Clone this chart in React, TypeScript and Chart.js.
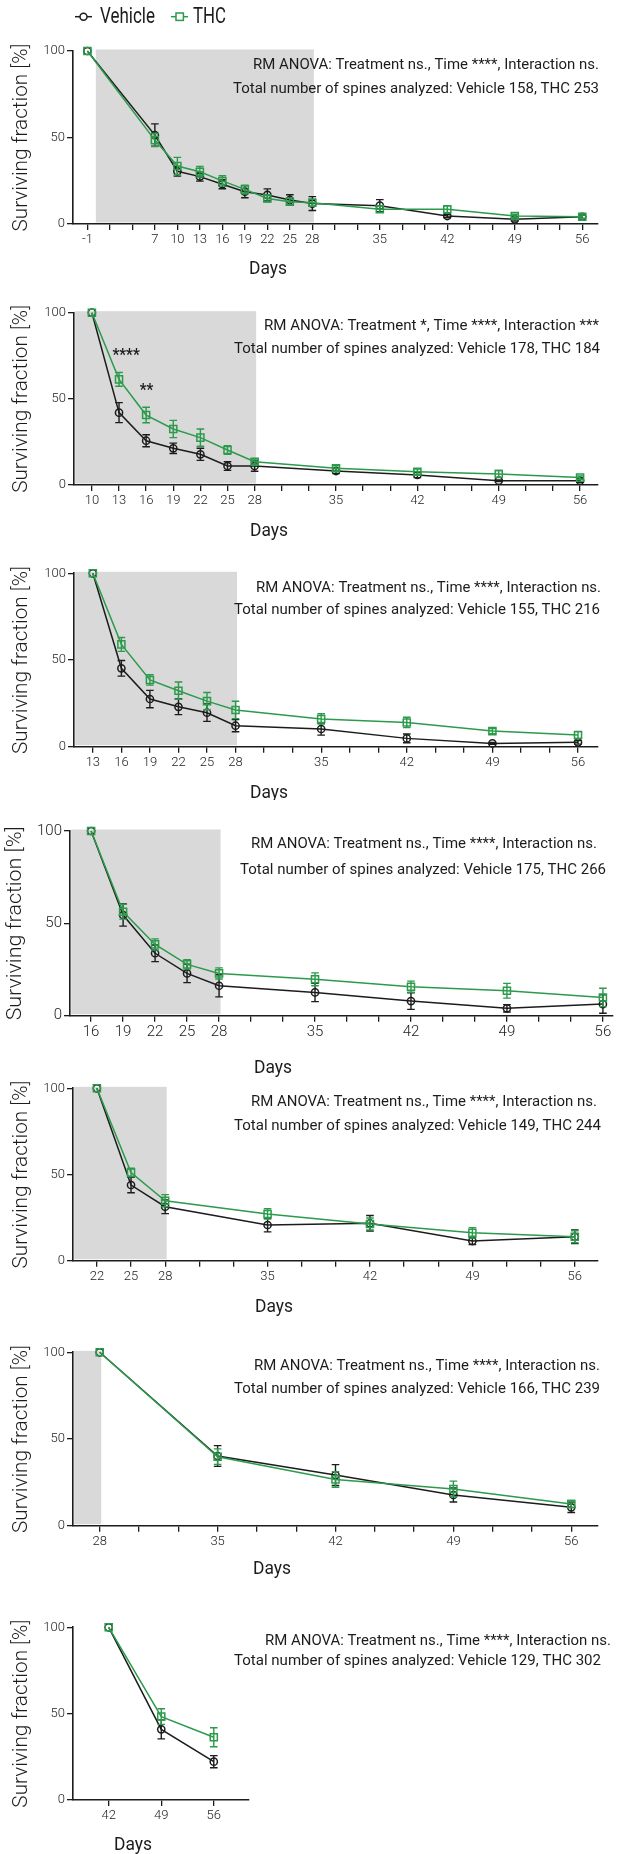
import React, { useEffect, useRef } from 'react';
import { Chart, registerables } from 'chart.js';

Chart.register(...registerables);

// ---------- shared text / styling ----------
const FONT = 'Roboto, "Liberation Sans", "DejaVu Sans", sans-serif';
const LIGHT = 300;
const REGULAR = 400;
const INK = '#1c1c1c';
const GREEN = '#2b9b4b';
const SHADE_COLOR = '#d9d9d9';
const SERIES_NAMES = ['Vehicle', 'THC'];
const X_TITLE = 'Days';
const Y_TITLE = 'Surviving fraction [%]';
const Y_TICKS = [0, 50, 100];
const TREATMENT_DAYS = [0, 28];
const ANOVA_NS = 'RM ANOVA: Treatment ns., Time ****, Interaction ns.';

// ---------- Panel 1 ----------
const P1_TICKS = ['-1', '', '', '7', '10', '13', '16', '19', '22', '25', '28', '', '', '35', '', '', '42', '', '', '49', '', '', '56'];
const P1_DAYS = [-1, 7, 10, 13, 16, 19, 22, 25, 28, 35, 42, 49, 56];
const P1_VEH = [100, 51.4, 30.5, 27.4, 23, 18.7, 16.8, 13.9, 11.8, 10.6, 4.6, 2.7, 4.2];
const P1_VEH_SEM = [0, 6.5, 2.8, 2.6, 2.6, 3.5, 3.5, 3, 4, 3.5, 1, 1, 1];
const P1_THC = [100, 48.5, 33.5, 30.2, 24.9, 20, 14.8, 12.9, 12.3, 8.5, 8.5, 4.6, 4.2];
const P1_THC_SEM = [0, 3.8, 5, 3, 3, 2.5, 2, 2, 2, 1.8, 2, 1, 1];
const P1_ANOVA = ANOVA_NS;
const P1_TOTAL = 'Total number of spines analyzed: Vehicle 158, THC 253';

// ---------- Panel 2 ----------
const P2_TICKS = ['10', '13', '16', '19', '22', '25', '28', '', '', '35', '', '', '42', '', '', '49', '', '', '56'];
const P2_DAYS = [10, 13, 16, 19, 22, 25, 28, 35, 42, 49, 56];
const P2_VEH = [100, 42, 25.7, 21.3, 17.8, 11, 11, 8.1, 5.8, 2.5, 2.5];
const P2_VEH_SEM = [0, 5.8, 3.5, 3, 3.5, 2.5, 3, 1.5, 1.5, 0.5, 1];
const P2_THC = [100, 61.3, 40.6, 32.5, 27.5, 20.3, 13.5, 9.7, 7.7, 6.4, 4.3];
const P2_THC_SEM = [0, 4, 4.5, 5, 5, 2.5, 1.5, 1.5, 1.5, 2, 1];
const P2_ANOVA = 'RM ANOVA: Treatment *, Time ****, Interaction ***';
const P2_TOTAL = 'Total number of spines analyzed: Vehicle 178, THC 184';
const P2_SIG_DAYS = [13, 16];
const P2_SIG_LABELS = ['****', '**'];

// ---------- Panel 3 ----------
const P3_TICKS = ['13', '16', '19', '22', '25', '28', '', '', '35', '', '', '42', '', '', '49', '', '', '56'];
const P3_DAYS = [13, 16, 19, 22, 25, 28, 35, 42, 49, 56];
const P3_VEH = [100, 45.2, 27.5, 23, 19.6, 12.1, 10.2, 4.8, 1.9, 2.5];
const P3_VEH_SEM = [0, 4.5, 5, 4.5, 5, 3.5, 3.5, 2.5, 0.5, 1];
const P3_THC = [100, 59, 38.5, 32.3, 26.3, 21.2, 16, 14, 9, 6.7];
const P3_THC_SEM = [0, 4, 3, 5, 5, 5, 3, 3, 1.5, 2];
const P3_ANOVA = ANOVA_NS;
const P3_TOTAL = 'Total number of spines analyzed: Vehicle 155, THC 216';

// ---------- Panel 4 ----------
const P4_TICKS = ['16', '19', '22', '25', '28', '', '', '35', '', '', '42', '', '', '49', '', '', '56'];
const P4_DAYS = [16, 19, 22, 25, 28, 35, 42, 49, 56];
const P4_VEH = [100, 54.5, 33.8, 22.9, 16.2, 12.6, 7.9, 4, 6.3];
const P4_VEH_SEM = [0, 6, 4.5, 5, 6, 5, 4.5, 2, 5];
const P4_THC = [100, 56.3, 38.6, 27.8, 22.9, 19.7, 15.7, 13.5, 9.9];
const P4_THC_SEM = [0, 4, 3, 2.5, 3, 3.5, 3, 4, 5];
const P4_ANOVA = ANOVA_NS;
const P4_TOTAL = 'Total number of spines analyzed: Vehicle 175, THC 266';

// ---------- Panel 5 ----------
const P5_TICKS = ['22', '25', '28', '', '', '35', '', '', '42', '', '', '49', '', '', '56'];
const P5_DAYS = [22, 25, 28, 35, 42, 49, 56];
const P5_VEH = [100, 43.9, 31.3, 20.7, 21.7, 11.4, 13.9];
const P5_VEH_SEM = [0, 4.5, 4, 4, 4.5, 2, 4];
const P5_THC = [100, 51.1, 34.8, 27.1, 21.3, 16.2, 13.9];
const P5_THC_SEM = [0, 2.5, 3.5, 3, 3.5, 3, 3.5];
const P5_ANOVA = ANOVA_NS;
const P5_TOTAL = 'Total number of spines analyzed: Vehicle 149, THC 244';

// ---------- Panel 6 ----------
const P6_TICKS = ['28', '', '', '35', '', '', '42', '', '', '49', '', '', '56'];
const P6_DAYS = [28, 35, 42, 49, 56];
const P6_VEH = [100, 40.2, 29.2, 17.7, 10.6];
const P6_VEH_SEM = [0, 6, 6, 4, 3];
const P6_THC = [100, 39.8, 26.7, 21.2, 12.5];
const P6_THC_SEM = [0, 4.5, 4.5, 4.5, 2];
const P6_ANOVA = ANOVA_NS;
const P6_TOTAL = 'Total number of spines analyzed: Vehicle 166, THC 239';

// ---------- Panel 7 ----------
const P7_TICKS = ['42', '49', '56'];
const P7_DAYS = [42, 49, 56];
const P7_VEH = [100, 40.9, 22.2];
const P7_VEH_SEM = [0, 5.5, 3.5];
const P7_THC = [100, 48.3, 36.3];
const P7_THC_SEM = [0, 4.5, 5.5];
const P7_ANOVA = ANOVA_NS;
const P7_TOTAL = 'Total number of spines analyzed: Vehicle 129, THC 302';

type PanelData = {
  ticks: string[]; days: number[];
  veh: number[]; vehSem: number[]; thc: number[]; thcSem: number[];
  anova: string; total: string; sigDays: number[]; sigLabels: string[];
};

const PANELS: PanelData[] = [
  { ticks: P1_TICKS, days: P1_DAYS, veh: P1_VEH, vehSem: P1_VEH_SEM, thc: P1_THC, thcSem: P1_THC_SEM, anova: P1_ANOVA, total: P1_TOTAL, sigDays: [], sigLabels: [] },
  { ticks: P2_TICKS, days: P2_DAYS, veh: P2_VEH, vehSem: P2_VEH_SEM, thc: P2_THC, thcSem: P2_THC_SEM, anova: P2_ANOVA, total: P2_TOTAL, sigDays: P2_SIG_DAYS, sigLabels: P2_SIG_LABELS },
  { ticks: P3_TICKS, days: P3_DAYS, veh: P3_VEH, vehSem: P3_VEH_SEM, thc: P3_THC, thcSem: P3_THC_SEM, anova: P3_ANOVA, total: P3_TOTAL, sigDays: [], sigLabels: [] },
  { ticks: P4_TICKS, days: P4_DAYS, veh: P4_VEH, vehSem: P4_VEH_SEM, thc: P4_THC, thcSem: P4_THC_SEM, anova: P4_ANOVA, total: P4_TOTAL, sigDays: [], sigLabels: [] },
  { ticks: P5_TICKS, days: P5_DAYS, veh: P5_VEH, vehSem: P5_VEH_SEM, thc: P5_THC, thcSem: P5_THC_SEM, anova: P5_ANOVA, total: P5_TOTAL, sigDays: [], sigLabels: [] },
  { ticks: P6_TICKS, days: P6_DAYS, veh: P6_VEH, vehSem: P6_VEH_SEM, thc: P6_THC, thcSem: P6_THC_SEM, anova: P6_ANOVA, total: P6_TOTAL, sigDays: [], sigLabels: [] },
  { ticks: P7_TICKS, days: P7_DAYS, veh: P7_VEH, vehSem: P7_VEH_SEM, thc: P7_THC, thcSem: P7_THC_SEM, anova: P7_ANOVA, total: P7_TOTAL, sigDays: [], sigLabels: [] },
];

// ---------- layout (absolute page pixels) ----------
type Box = { x0: number; x1: number; y: number };
type Layout = {
  top: number; bottom: number; plotTop: number; plotBottom: number;
  axisX: number; axisEnd: number; padL: number; padR: number; tickSize: number;
  anova: Box; total: Box; days: Box; yTitleX: number; yTitleLen: number; legend?: boolean;
};

const FIG_W = 619;
const FIG_H = 1854;

const daysBox = (cx: number, y: number): Box => ({ x0: cx - 19, x1: cx + 19, y });

const LAYOUTS: Layout[] = [
  { top: 0, bottom: 280, plotTop: 51, plotBottom: 224, axisX: 73, axisEnd: 598, padL: 0.64, padR: 0.7, tickSize: 13,
    anova: { x0: 253, x1: 599, y: 65 }, total: { x0: 233, x1: 599, y: 89 }, days: daysBox(268, 269), yTitleX: 22, yTitleLen: 188, legend: true },
  { top: 280, bottom: 540, plotTop: 312.7, plotBottom: 485, axisX: 74, axisEnd: 598, padL: 0.66, padR: 0.66, tickSize: 13,
    anova: { x0: 264, x1: 599, y: 326.7 }, total: { x0: 234, x1: 600, y: 349.3 }, days: daysBox(269, 531.7), yTitleX: 22, yTitleLen: 188 },
  { top: 540, bottom: 800, plotTop: 573.3, plotBottom: 746.7, axisX: 74, axisEnd: 598, padL: 0.66, padR: 0.7, tickSize: 13,
    anova: { x0: 256, x1: 601, y: 588.3 }, total: { x0: 234, x1: 600, y: 610.7 }, days: daysBox(269, 793.3), yTitleX: 22, yTitleLen: 188 },
  { top: 800, bottom: 1077, plotTop: 831, plotBottom: 1015.7, axisX: 70, axisEnd: 617, padL: 0.66, padR: 0.3, tickSize: 15,
    anova: { x0: 251, x1: 597, y: 844.3 }, total: { x0: 240, x1: 606, y: 870.7 }, days: daysBox(273, 1068.3), yTitleX: 16, yTitleLen: 194 },
  { top: 1077, bottom: 1318, plotTop: 1088.3, plotBottom: 1260.7, axisX: 73, axisEnd: 598, padL: 0.7, padR: 0.68, tickSize: 13,
    anova: { x0: 251, x1: 597, y: 1102.7 }, total: { x0: 234, x1: 601, y: 1126 }, days: daysBox(274, 1307.3), yTitleX: 22, yTitleLen: 188 },
  { top: 1318, bottom: 1580, plotTop: 1352.3, plotBottom: 1525.7, axisX: 73, axisEnd: 598, padL: 0.68, padR: 0.68, tickSize: 13,
    anova: { x0: 254, x1: 600, y: 1366.7 }, total: { x0: 234, x1: 600, y: 1389.3 }, days: daysBox(272, 1569.3), yTitleX: 22, yTitleLen: 188 },
  { top: 1580, bottom: 1854, plotTop: 1627.3, plotBottom: 1800, axisX: 73, axisEnd: 249, padL: 0.68, padR: 0.67, tickSize: 13,
    anova: { x0: 265, x1: 611, y: 1641 }, total: { x0: 234, x1: 601, y: 1661 }, days: daysBox(133, 1845), yTitleX: 22, yTitleLen: 188 },
];

const CAP = 3.8;

function fitText(ctx: CanvasRenderingContext2D, text: string, x0: number, x1: number, y: number, font: string, color: string) {
  ctx.save();
  ctx.font = font;
  ctx.fillStyle = color;
  ctx.textAlign = 'left';
  ctx.textBaseline = 'middle';
  const w = ctx.measureText(text).width || 1;
  ctx.translate(x0, y);
  ctx.scale((x1 - x0) / w, 1);
  ctx.fillText(text, 0, 0);
  ctx.restore();
}

function dayToSlot(ticks: string[], day: number): number {
  const pts: [number, number][] = [];
  ticks.forEach((t, i) => { if (t !== '') pts.push([i, Number(t)]); });
  if (day < pts[0][1]) return -Infinity;
  if (day > pts[pts.length - 1][1]) return Infinity;
  for (let k = 0; k < pts.length - 1; k++) {
    const [i0, d0] = pts[k];
    const [i1, d1] = pts[k + 1];
    if (day >= d0 && day <= d1) return i0 + ((day - d0) / (d1 - d0)) * (i1 - i0);
  }
  return pts[pts.length - 1][0];
}

function makeDecor(p: PanelData, L: Layout) {
  return {
    id: 'decor',
    beforeDraw(chart: any) {
      const { ctx, chartArea, scales } = chart;
      const xs = scales.x, ys = scales.y;
      const s0 = dayToSlot(p.ticks, TREATMENT_DAYS[0]);
      const s1 = dayToSlot(p.ticks, TREATMENT_DAYS[1]);
      let x0 = isFinite(s0) ? xs.getPixelForValue(s0) : (s0 < 0 ? chartArea.left + 1.2 : chartArea.right);
      const x1 = isFinite(s1) ? xs.getPixelForValue(s1) + 1.5 : (s1 < 0 ? chartArea.left : chartArea.right);
      x0 = Math.max(x0, chartArea.left + 1.2);
      if (x1 > x0) {
        const yt = ys.getPixelForValue(100) - 1.5;
        const yb = ys.getPixelForValue(0) - 1.5;
        ctx.save();
        ctx.fillStyle = SHADE_COLOR;
        ctx.fillRect(x0, yt, x1 - x0, yb - yt);
        ctx.restore();
      }
    },
    afterDatasetDraw(chart: any, args: any) {
      const ds: any = chart.data.datasets[args.index];
      const sem: number[] = ds.sem;
      if (!sem) return;
      const ys = chart.scales.y;
      const ctx: CanvasRenderingContext2D = chart.ctx;
      ctx.save();
      ctx.strokeStyle = ds.borderColor;
      ctx.lineWidth = 1.4;
      args.meta.data.forEach((el: any, i: number) => {
        const e = sem[i];
        if (!e) return;
        const v = ds.data[i].y;
        const yt = ys.getPixelForValue(v + e);
        const yb = ys.getPixelForValue(v - e);
        const x = el.x;
        ctx.beginPath();
        ctx.moveTo(x, yt); ctx.lineTo(x, yb);
        ctx.moveTo(x - CAP, yt); ctx.lineTo(x + CAP, yt);
        ctx.moveTo(x - CAP, yb); ctx.lineTo(x + CAP, yb);
        ctx.stroke();
      });
      ctx.restore();
    },
    afterDraw(chart: any) {
      const ctx: CanvasRenderingContext2D = chart.ctx;
      const dy = L.top;
      const xs = chart.scales.x, ys = chart.scales.y;
      fitText(ctx, p.anova, L.anova.x0, L.anova.x1, L.anova.y - dy, `${REGULAR} 14px ${FONT}`, INK);
      fitText(ctx, p.total, L.total.x0, L.total.x1, L.total.y - dy, `${REGULAR} 14px ${FONT}`, INK);
      fitText(ctx, X_TITLE, L.days.x0, L.days.x1, L.days.y - dy, `${REGULAR} 18px ${FONT}`, INK);
      // y title
      ctx.save();
      ctx.translate(L.yTitleX, (L.plotTop + L.plotBottom) / 2 - dy);
      ctx.rotate(-Math.PI / 2);
      fitText(ctx, Y_TITLE, -L.yTitleLen / 2, L.yTitleLen / 2, 0, `${LIGHT} 21px ${FONT}`, INK);
      ctx.restore();
      // significance stars
      p.sigDays.forEach((d, k) => {
        const idx = p.days.indexOf(d);
        const x = xs.getPixelForValue(p.ticks.indexOf(String(d)));
        const y = ys.getPixelForValue(p.thc[idx] + p.thcSem[idx]) - 17;
        const lab = p.sigLabels[k];
        const w = lab.length * 6.8;
        fitText(ctx, lab, x - 6.5, x - 6.5 + w, y, `bold 17px ${FONT}`, INK);
      });
      if (L.legend) {
        const ly = 16.7 - dy;
        ctx.save();
        ctx.lineWidth = 1.5;
        ctx.strokeStyle = INK;
        ctx.beginPath(); ctx.moveTo(75, ly); ctx.lineTo(92, ly); ctx.stroke();
        ctx.fillStyle = '#fff';
        ctx.beginPath(); ctx.arc(83.5, ly, 3.5, 0, Math.PI * 2); ctx.fill(); ctx.stroke();
        ctx.strokeStyle = GREEN;
        ctx.beginPath(); ctx.moveTo(171, ly); ctx.lineTo(188, ly); ctx.stroke();
        ctx.fillRect(176, ly - 3.7, 7.4, 7.4);
        ctx.strokeRect(176, ly - 3.7, 7.4, 7.4);
        ctx.restore();
        fitText(ctx, SERIES_NAMES[0], 100, 155, ly + 1, `${REGULAR} 22px ${FONT}`, INK);
        fitText(ctx, SERIES_NAMES[1], 193, 226, ly + 1, `${REGULAR} 22px ${FONT}`, INK);
      }
    },
  };
}

function buildChart(canvas: HTMLCanvasElement, p: PanelData, L: Layout) {
  const n = p.ticks.length;
  const slot = (d: number) => p.ticks.indexOf(String(d));
  const vehData = p.days.map((d, i) => ({ x: slot(d), y: p.veh[i] }));
  const thcData = p.days.map((d, i) => ({ x: slot(d), y: p.thc[i] }));
  const grid = { display: true, drawOnChartArea: false, drawTicks: true, tickLength: 6, color: INK, lineWidth: 1.3 };
  const border = { display: true, color: INK, width: 1.6 };
  const tickFont = { family: FONT, size: L.tickSize, weight: LIGHT };
  const cfg: any = {
    type: 'line',
    data: {
      datasets: [
        {
          label: SERIES_NAMES[1], data: thcData, sem: p.thcSem, borderColor: GREEN, backgroundColor: 'rgba(0,0,0,0)',
          borderWidth: 1.5, pointStyle: 'rect', pointRadius: 5, pointBorderWidth: 1.5, pointBorderColor: GREEN,
          pointBackgroundColor: 'rgba(0,0,0,0)', clip: false, tension: 0,
        },
        {
          label: SERIES_NAMES[0], data: vehData, sem: p.vehSem, borderColor: INK, backgroundColor: 'rgba(0,0,0,0)',
          borderWidth: 1.5, pointStyle: 'circle', pointRadius: 3.6, pointBorderWidth: 1.5, pointBorderColor: INK,
          pointBackgroundColor: 'rgba(0,0,0,0)', clip: false, tension: 0,
        },
      ],
    },
    options: {
      responsive: false,
      animation: false,
      events: [],
      layout: { padding: { top: L.plotTop - L.top, right: FIG_W - L.axisEnd, left: 0, bottom: 0 } },
      plugins: { legend: { display: false }, tooltip: { enabled: false } },
      scales: {
        x: {
          type: 'linear', min: -L.padL, max: n - 1 + L.padR,
          afterBuildTicks: (s: any) => { s.ticks = p.ticks.map((_, i) => ({ value: i })); },
          afterFit: (s: any) => { s.height = L.bottom - L.plotBottom; },
          ticks: {
            autoSkip: false, maxRotation: 0, minRotation: 0, padding: 2, color: INK,
            font: tickFont,
            callback: (v: any) => p.ticks[Math.round(v)] ?? '',
          },
          grid, border,
        },
        y: {
          type: 'linear', min: 0, max: 100,
          afterBuildTicks: (s: any) => { s.ticks = Y_TICKS.map((v) => ({ value: v })); },
          afterFit: (s: any) => { s.width = L.axisX; },
          ticks: { padding: 2, color: INK, font: tickFont },
          grid: { ...grid, tickLength: 6 }, border,
        },
      },
    },
    plugins: [makeDecor(p, L)],
  };
  return new Chart(canvas, cfg);
}

export default function App() {
  const refs = useRef<(HTMLCanvasElement | null)[]>([]);
  useEffect(() => {
    const charts = PANELS.map((p, i) => buildChart(refs.current[i] as HTMLCanvasElement, p, LAYOUTS[i]));
    return () => charts.forEach((c) => c.destroy());
  }, []);
  return (
    <div style={{ position: 'absolute', left: 0, top: 0, width: FIG_W, height: FIG_H, background: '#fff', overflow: 'hidden' }}>
      {LAYOUTS.map((L, i) => (
        <canvas
          key={i}
          ref={(el) => { refs.current[i] = el; }}
          width={FIG_W}
          height={L.bottom - L.top}
          style={{ position: 'absolute', left: 0, top: L.top, width: FIG_W, height: L.bottom - L.top }}
        />
      ))}
    </div>
  );
}
